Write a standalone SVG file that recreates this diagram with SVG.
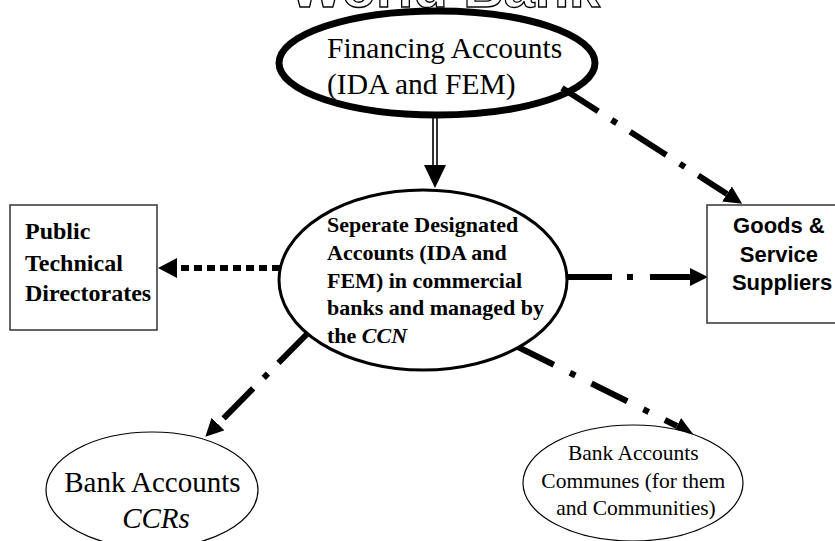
<svg xmlns="http://www.w3.org/2000/svg" width="835" height="541" viewBox="0 0 835 541">
<style>
.serif{font-family:"Liberation Serif","Times New Roman",serif;fill:#000}
.sans{font-family:"Liberation Sans",Arial,sans-serif;fill:#000}
.bold{font-weight:bold}
.box{fill:#fff;stroke:#333;stroke-width:1.5}
.ell{fill:#fff;stroke:#000}
.dd{fill:none;stroke:#000;stroke-width:6;stroke-linecap:butt}
.dot{fill:none;stroke:#000;stroke-width:6;stroke-dasharray:8 5}
.thin{fill:none;stroke:#000;stroke-width:1.6}
</style>
<defs>
<marker id="head" markerUnits="userSpaceOnUse" markerWidth="20" markerHeight="20" refX="0" refY="9" orient="auto">
<path d="M0,0 L18,9 L0,18 z" fill="#000"/>
</marker>
<marker id="headL" markerUnits="userSpaceOnUse" markerWidth="22" markerHeight="22" refX="0" refY="10" orient="auto">
<path d="M0,0 L19,10 L0,20 z" fill="#000"/>
</marker>
</defs>
<g id="title">
<text class="sans bold" x="290" y="7" font-size="56" style="fill:#fff;stroke:#000;stroke-width:1.3">World Bank</text>
</g>
<g id="connectors">
<line class="thin" x1="433" y1="115" x2="433" y2="166"/>
<line class="thin" x1="437" y1="115" x2="437" y2="166"/>
<path d="M424,165 L446,165 L435,188 z" fill="#000"/>
<line class="dd" x1="562" y1="88" x2="727" y2="194" stroke-dasharray="43 16 6 16" marker-end="url(#head)"/>
<line class="dd" x1="567" y1="277" x2="690" y2="277" stroke-dasharray="45 15 6 17" marker-end="url(#head)"/>
<line class="dot" x1="280" y1="268" x2="177" y2="268" marker-end="url(#headL)"/>
<line class="dd" x1="308" y1="333" x2="218" y2="424" stroke-dasharray="42 15 6 15" marker-end="url(#head)"/>
<line class="dd" x1="518" y1="347" x2="677" y2="426" stroke-dasharray="40 18 6 18" marker-end="url(#head)"/>
</g>
<g id="financing">
<ellipse cx="437" cy="63" rx="158" ry="52" stroke-width="7" fill="none" stroke="#000"/>
<text class="serif" x="327" y="58" font-size="29.5">Financing Accounts</text>
<text class="serif" x="327" y="94" font-size="29.5">(IDA and FEM)</text>
</g>
<g id="designated">
<ellipse class="ell" cx="423" cy="280" rx="144" ry="90" stroke-width="3"/>
<text class="serif bold" font-size="22">
<tspan x="327" y="232">Seperate Designated</tspan>
<tspan x="327" y="260">Accounts (IDA and</tspan>
<tspan x="327" y="288">FEM) in commercial</tspan>
<tspan x="327" y="315">banks and managed by</tspan>
<tspan x="327" y="343">the <tspan font-style="italic">CCN</tspan></tspan>
</text>
</g>
<g id="public">
<rect class="box" x="10" y="205" width="147" height="125"/>
<text class="serif bold" font-size="24">
<tspan x="25" y="239">Public</tspan>
<tspan x="25" y="271">Technical</tspan>
<tspan x="25" y="301">Directorates</tspan>
</text>
</g>
<g id="suppliers">
<rect class="box" x="707" y="205" width="145" height="118"/>
<text class="sans bold" font-size="22" text-anchor="middle">
<tspan x="782" y="233">Goods &amp;</tspan>
<tspan x="782" y="262">Service</tspan>
<tspan x="782" y="290">Suppliers</tspan>
</text>
</g>
<g id="ccrs">
<ellipse class="ell" cx="152" cy="490" rx="106" ry="58" stroke-width="1.2"/>
<text class="serif" font-size="29" text-anchor="middle">
<tspan x="156" y="492">Bank Accounts</tspan>
<tspan x="156" y="528" font-style="italic">CCRs</tspan>
</text>
</g>
<g id="communes">
<ellipse class="ell" cx="633" cy="483" rx="110" ry="58" stroke-width="1.2"/>
<text class="serif" font-size="21.5" text-anchor="middle">
<tspan x="636" y="460">Bank Accounts</tspan>
<tspan x="636" y="488">Communes (for them</tspan>
<tspan x="636" y="515">and Communities)</tspan>
</text>
</g>
</svg>
